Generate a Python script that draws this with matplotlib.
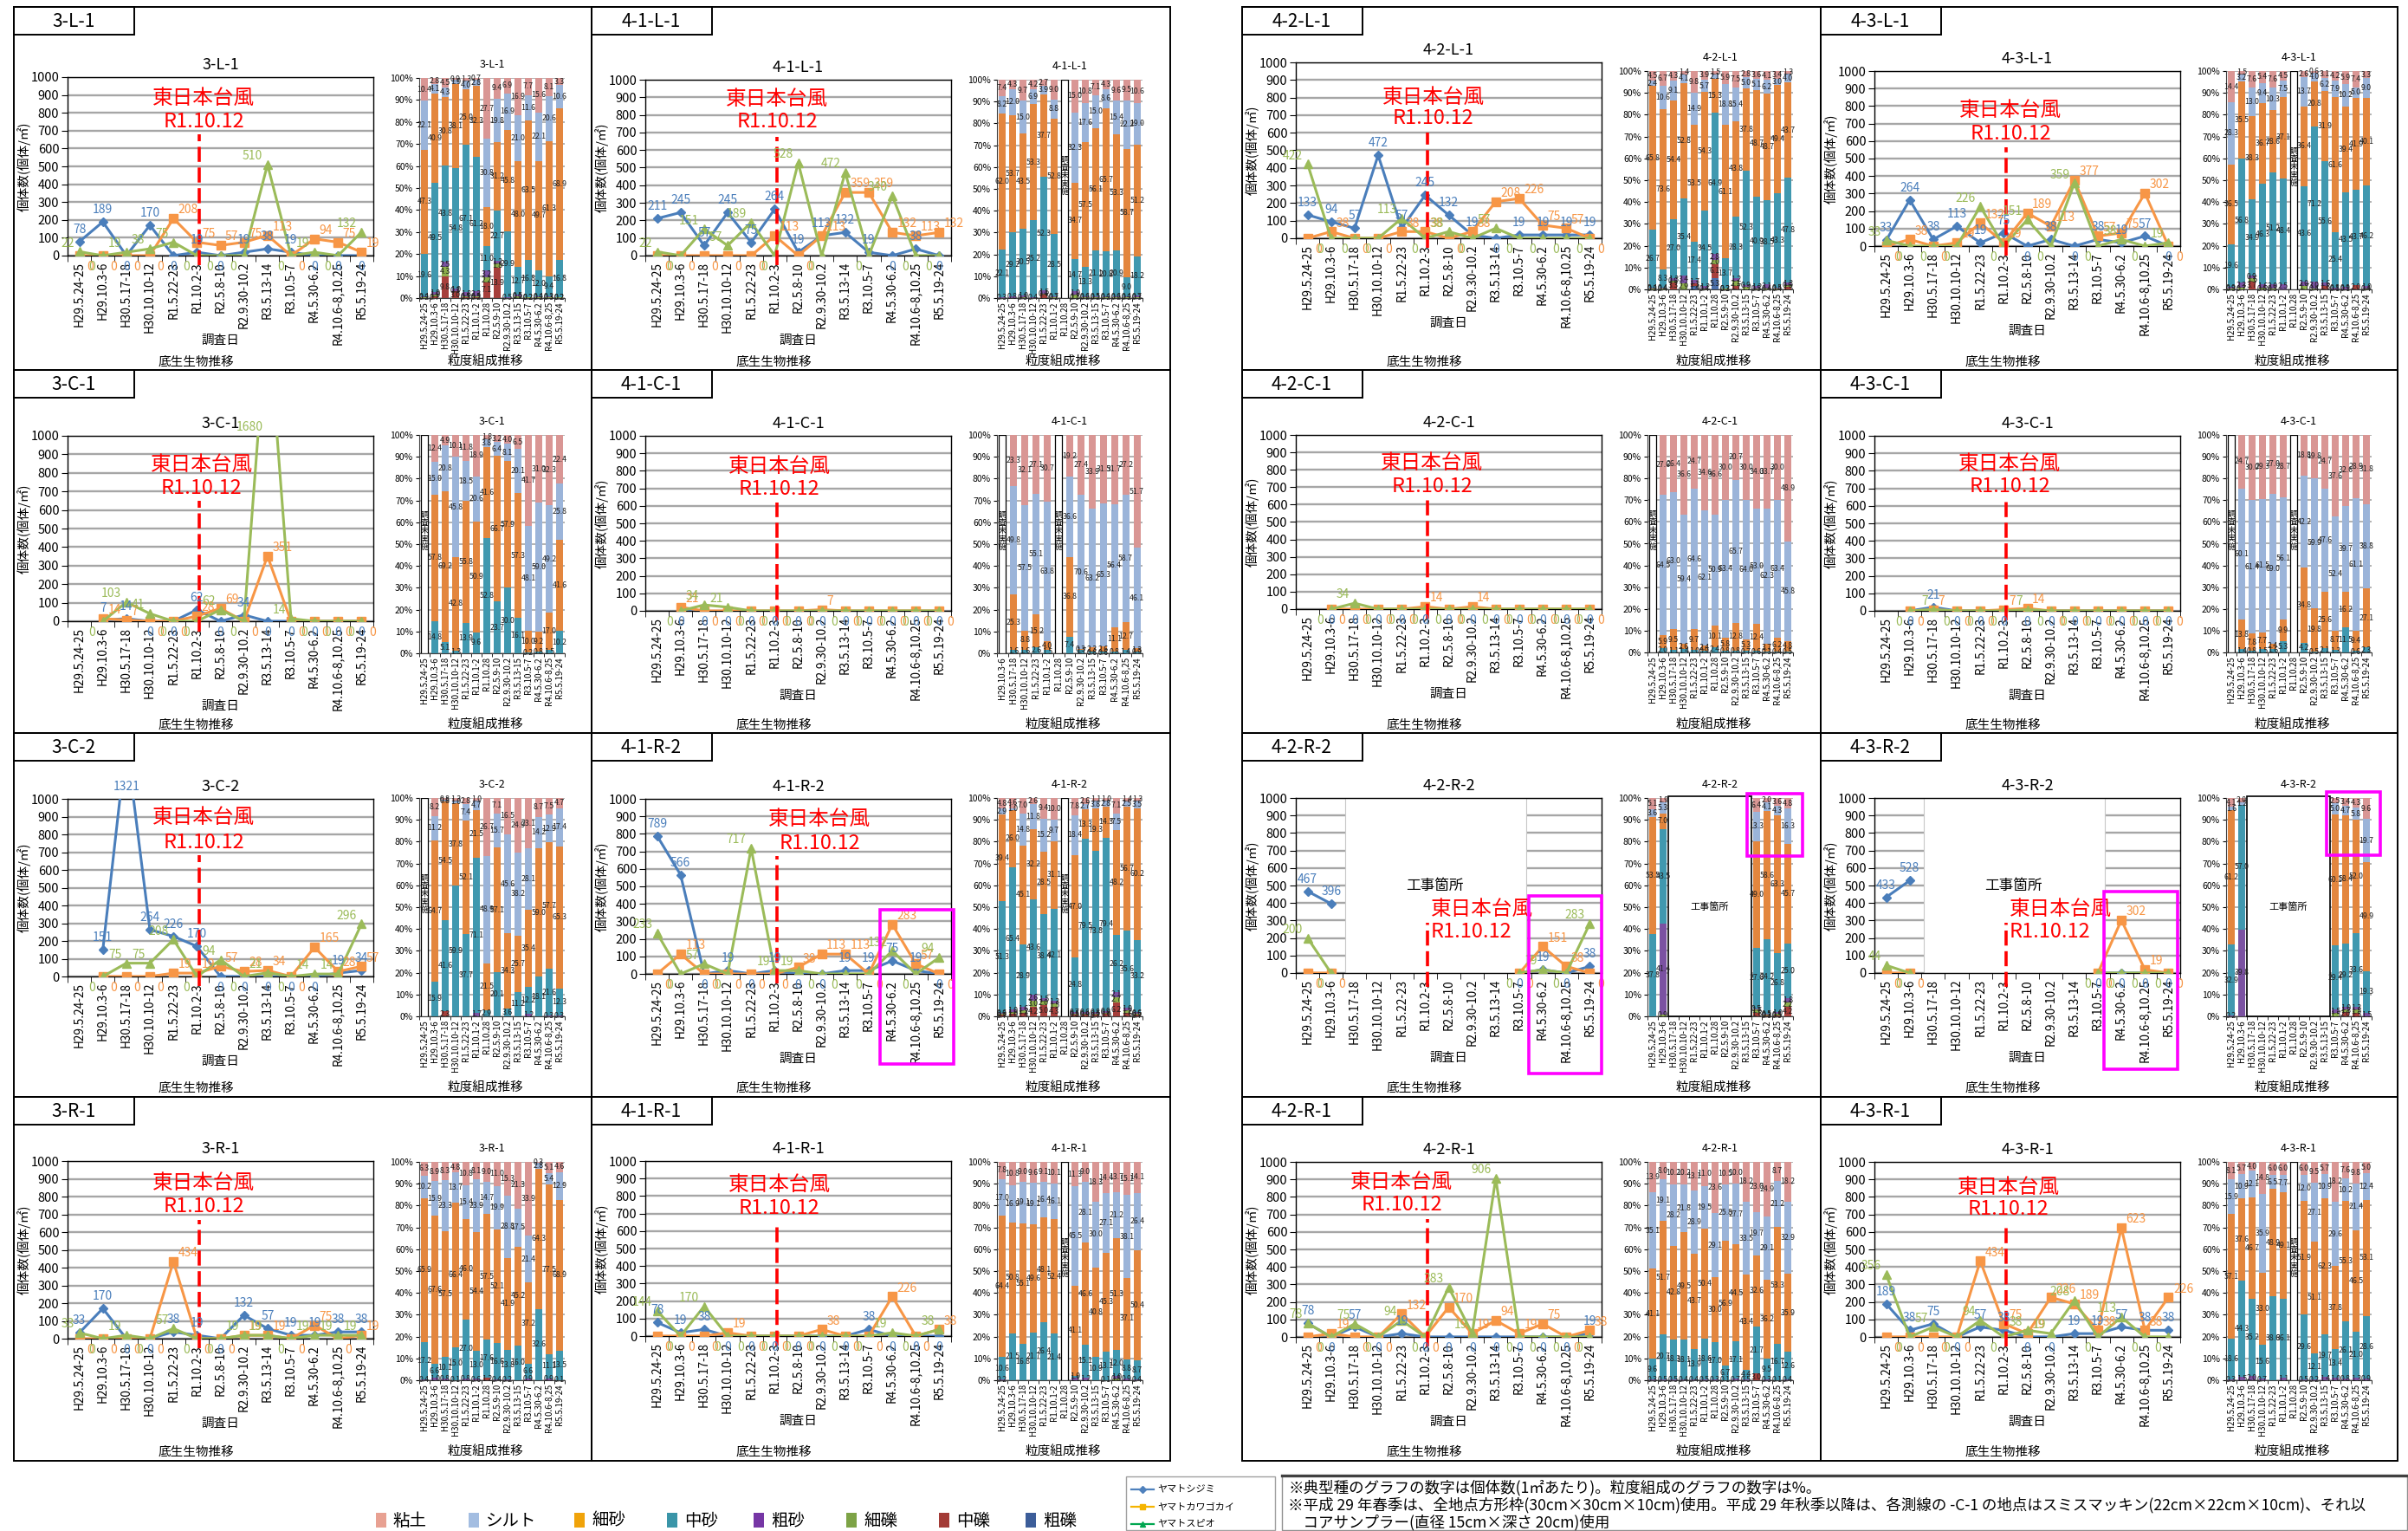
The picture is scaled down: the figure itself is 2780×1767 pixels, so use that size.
import numpy as np
import matplotlib
matplotlib.use('Agg')
import matplotlib.pyplot as plt
from matplotlib.patches import Rectangle
from matplotlib.transforms import blended_transform_factory

plt.rcParams['font.family'] = ['Noto Sans CJK JP', 'DejaVu Sans']
plt.rcParams['axes.unicode_minus'] = False

N = None
LINE_CATS = ['H29.5.24-25', 'H29.10.3-6', 'H30.5.17-18', 'H30.10.10-12', 'R1.5.22-23', 'R1.10.2-3',
             'R2.5.8-10', 'R2.9.30-10.2', 'R3.5.13-14', 'R3.10.5-7', 'R4.5.30-6.2', 'R4.10.6-8,10.25', 'R5.5.19-24']
BAR_CATS = ['H29.5.24-25', 'H29.10.3-6', 'H30.5.17-18', 'H30.10.10-12', 'R1.5.22-23', 'R1.10.1-2', 'R1.10.28',
            'R2.5.9-10', 'R2.9.30-10.2', 'R3.5.13-15', 'R3.10.5-7', 'R4.5.30-6.2', 'R4.10.6-8,25', 'R5.5.19-24']
BAR_CATS_41C1 = ['H29.10.3-6', 'H30.5.17-18', 'H30.10.10-12', 'R1.5.22-23', 'R1.10.1-2', 'R1.10.28',
                 'R2.5.9-10', 'R2.9.30-10.2', 'R3.5.13-15', 'R3.10.5-7', 'R4.5.30-6.2', 'R4.10.6-8,25', 'R5.5.19-24']

# ---------------- line data (individuals / m2) : ヤマトシジミ, ヤマトカワゴカイ, ヤマトスピオ
blue_3L1 = [78, 189, 0, 170, 0, 19, 0, 19, 38, 19, 0, 0, 0]
orange_3L1 = [0, 0, 0, 0, 208, 75, 57, 75, 113, 0, 94, 75, 19]
green_3L1 = [22, 0, 19, 38, 75, 0, 0, 0, 510, 0, 19, 0, 132]
blue_41L1 = [211, 245, 57, 245, 75, 264, 19, 113, 132, 19, 0, 38, 0]
orange_41L1 = [0, 0, 0, 0, 0, 113, 0, 113, 359, 359, 132, 113, 132]
green_41L1 = [22, 0, 151, 57, 189, 0, 528, 0, 472, 0, 340, 0, 0]
blue_42L1 = [133, 94, 57, 472, 57, 245, 132, 19, 0, 19, 19, 19, 19]
orange_42L1 = [0, 38, 0, 0, 38, 38, 0, 38, 208, 226, 75, 57, 0]
green_42L1 = [422, 0, 0, 0, 113, 0, 38, 0, 57, 0, 0, 0, 0]
blue_43L1 = [33, 264, 38, 113, 19, 75, 0, 38, 0, 38, 19, 57, 0]
orange_43L1 = [0, 38, 0, 19, 132, 19, 189, 113, 377, 57, 75, 302, 0]
green_43L1 = [33, 0, 0, 0, 226, 0, 151, 0, 359, 0, 38, 0, 19]
blue_3C1 = [N, 7, 14, 0, 0, 62, 0, 34, 0, 0, 0, 0, 0]
orange_3C1 = [N, 14, 7, 0, 0, 28, 69, 0, 351, 0, 0, 0, 0]
green_3C1 = [N, 0, 103, 41, 0, 0, 62, 0, 1680, 14, 0, 0, 0]
blue_41C1 = [N, 0, 0, 0, 0, 0, 0, 0, 0, 0, 0, 0, 0]
orange_41C1 = [N, 21, 0, 0, 0, 0, 0, 7, 0, 0, 0, 0, 0]
green_41C1 = [N, 0, 34, 21, 0, 0, 0, 0, 0, 0, 0, 0, 0]
blue_42C1 = [N, 0, 0, 0, 0, 0, 0, 0, 0, 0, 0, 0, 0]
orange_42C1 = [N, 0, 0, 0, 0, 14, 0, 14, 0, 0, 0, 0, 0]
green_42C1 = [N, 0, 34, 0, 0, 0, 0, 0, 0, 0, 0, 0, 0]
blue_43C1 = [N, 0, 21, 0, 0, 0, 0, 0, 0, 0, 0, 0, 0]
orange_43C1 = [N, 0, 7, 0, 0, 7, 14, 0, 0, 0, 0, 0, 0]
green_43C1 = [N, 0, 7, 0, 0, 0, 7, 0, 0, 0, 0, 0, 0]
blue_3C2 = [N, 151, 1321, 264, 226, 170, 0, 0, 0, 0, 0, 19, 34]
orange_3C2 = [N, 0, 0, 0, 19, 19, 57, 28, 34, 0, 165, 28, 57]
green_3C2 = [N, 0, 75, 75, 208, 0, 94, 0, 21, 0, 14, 14, 296]
blue_41R2 = [789, 566, 0, 19, 0, 19, 0, 0, 19, 19, 75, 19, 0]
orange_41R2 = [0, 113, 0, 0, 0, 0, 38, 113, 113, 0, 283, 57, 0]
green_41R2 = [233, 0, 57, 0, 717, 19, 19, 0, 0, 0, 132, 0, 94]
blue_42R2 = [467, 396, N, N, N, N, N, N, N, 0, 19, 0, 38]
orange_42R2 = [0, 0, N, N, N, N, N, N, N, 0, 151, 38, 0]
green_42R2 = [200, 0, N, N, N, N, N, N, N, 0, 19, 0, 283]
blue_43R2 = [433, 528, N, N, N, N, N, N, N, 0, 0, 0, 0]
orange_43R2 = [0, 0, N, N, N, N, N, N, N, 0, 302, 19, 0]
green_43R2 = [44, 0, N, N, N, N, N, N, N, 0, 0, 0, 0]
blue_3R1 = [33, 170, 0, 0, 38, 19, 0, 132, 57, 19, 19, 38, 38]
orange_3R1 = [0, 0, 0, 0, 434, 0, 0, 19, 19, 0, 75, 0, 19]
green_3R1 = [33, 0, 19, 0, 57, 0, 0, 19, 19, 0, 19, 19, 19]
blue_41R1 = [78, 19, 38, 0, 0, 0, 0, 0, 0, 38, 0, 0, 0]
orange_41R1 = [0, 0, 0, 19, 0, 0, 0, 38, 0, 0, 226, 0, 38]
green_41R1 = [144, 0, 170, 0, 0, 0, 0, 0, 0, 0, 19, 0, 38]
blue_42R1 = [78, 0, 57, 0, 19, 0, 0, 0, 0, 0, 0, 0, 19]
orange_42R1 = [0, 19, 0, 0, 132, 0, 170, 19, 94, 19, 75, 0, 38]
green_42R1 = [78, 0, 75, 0, 94, 0, 283, 19, 906, 0, 0, 0, 0]
blue_43R1 = [189, 38, 75, 0, 57, 38, 0, 0, 19, 19, 57, 38, 38]
orange_43R1 = [0, 0, 0, 0, 434, 75, 19, 226, 189, 38, 623, 38, 226]
green_43R1 = [356, 0, 57, 0, 94, 0, 38, 19, 208, 0, 113, 0, 0]

# ---------------- grain size composition (%)
clay_3L1 = [10.4, 2.8, 4.5, 0.9, 1.3, 0.7, 27.7, 9.4, 6.9, 16.9, 7.7, 15.6, 8.1, 3.3]
silt_3L1 = [22.1, 4.1, 4.3, 1.9, 4.0, 2.8, 30.8, 19.8, 16.9, 21.0, 11.6, 22.1, 20.6, 10.6]
fsand_3L1 = [47.3, 40.9, 30.8, 38.1, 25.0, 32.3, 18.0, 31.2, 45.8, 48.0, 63.5, 49.7, 61.3, 68.9]
msand_3L1 = [19.6, 49.5, 43.8, 54.8, 67.1, 61.2, 11.0, 22.7, 29.9, 12.7, 16.8, 12.0, 9.4, 16.8]
csand_3L1 = [0.4, 1.0, 2.5, 1.0, 1.8, 2.3, 3.2, 1.2, 0.5, 0.5, 0.2, 0.4, 0.3, 0.2]
fgrav_3L1 = [0.2, 1.0, 4.3, 0.3, 0.5, 0.5, 2.2, 1.8, 0.0, 0.9, 0.2, 0.2, 0.3, 0.2]
mgrav_3L1 = [0.0, 0.7, 9.8, 3.0, 0.3, 0.2, 7.1, 13.9, 0.0, 0.0, 0.0, 0.0, 0.0, 0.0]

clay_41L1 = [7.4, 4.3, 9.7, 4.2, 2.7, 9.0, N, 15.0, 10.8, 7.1, 4.3, 9.6, 9.5, 10.6]
silt_41L1 = [8.2, 12.0, 15.0, 6.9, 3.9, 8.8, N, 32.3, 17.6, 15.0, 8.6, 15.4, 22.2, 19.0]
fsand_41L1 = [62.0, 53.7, 43.5, 53.3, 37.7, 52.8, N, 34.7, 57.5, 56.1, 65.7, 53.3, 58.7, 51.2]
msand_41L1 = [22.1, 29.2, 30.5, 35.2, 52.3, 28.5, N, 14.7, 13.3, 21.1, 20.8, 20.9, 9.0, 18.2]
csand_41L1 = [0.3, 0.8, 1.0, 0.4, 1.5, 0.7, N, 1.9, 0.6, 0.5, 0.4, 0.6, 0.4, 0.7]
fgrav_41L1 = [0.0, 0.0, 0.3, 0.0, 0.4, 0.2, N, 1.3, 0.2, 0.2, 0.2, 0.2, 0.2, 0.3]
mgrav_41L1 = [0.0, 0.0, 0.0, 0.0, 1.5, 0.0, N, 0.1, 0.0, 0.0, 0.0, 0.0, 0.0, 0.0]

clay_42L1 = [4.5, 6.7, 4.3, 1.4, 9.8, 3.9, 1.5, 5.9, 7.5, 2.8, 3.6, 4.1, 3.4, 1.3]
silt_42L1 = [2.4, 10.6, 9.1, 4.1, 14.9, 5.7, 2.1, 18.8, 15.4, 5.0, 5.1, 6.2, 3.0, 4.0]
fsand_42L1 = [65.8, 73.6, 54.4, 52.8, 53.5, 54.3, 15.3, 61.1, 43.8, 37.8, 48.7, 48.7, 49.4, 43.7]
msand_42L1 = [26.7, 8.3, 27.0, 35.4, 17.4, 34.5, 64.9, 13.7, 28.3, 52.3, 40.9, 38.5, 43.3, 47.8]
csand_42L1 = [0.4, 0.4, 1.3, 3.4, 1.7, 1.2, 2.8, 0.3, 1.2, 0.9, 1.2, 2.1, 0.5, 1.3]
fgrav_42L1 = [0.2, 0.4, 0.6, 2.9, 0.0, 0.4, 2.0, 0.2, 2.1, 1.2, 0.5, 0.4, 0.4, 0.6]
mgrav_42L1 = [0.0, 0.0, 3.3, 0.0, 1.3, 0.0, 6.1, 0.0, 1.7, 0.0, 0.0, 0.0, 0.0, 1.3]
cgrav_42L1 = [0.0, 0.0, 0.0, 0.0, 1.4, 0.0, 5.3, 0.0, 0.0, 0.0, 0.0, 0.0, 0.0, 0.0]

clay_43L1 = [14.4, 1.5, 7.6, 5.4, 7.6, 4.5, N, 2.6, 0.6, 3.1, 4.2, 5.9, 7.4, 3.3]
silt_43L1 = [28.3, 3.2, 13.0, 9.4, 10.3, 7.5, N, 13.7, 4.0, 6.2, 7.9, 10.2, 5.0, 9.0]
fsand_43L1 = [36.5, 35.5, 38.3, 36.7, 28.6, 37.1, N, 36.4, 20.8, 31.9, 61.6, 39.4, 41.9, 40.1]
msand_43L1 = [19.6, 56.8, 34.9, 46.3, 51.2, 48.4, N, 43.6, 71.2, 55.6, 25.4, 43.5, 43.7, 46.2]
csand_43L1 = [0.9, 2.3, 0.9, 1.6, 2.0, 2.5, N, 2.0, 3.0, 1.6, 0.8, 0.9, 0.0, 1.0]
fgrav_43L1 = [0.3, 0.7, 1.6, 0.6, 0.3, 0.0, N, 1.7, 0.4, 0.0, 0.1, 0.1, 0.0, 0.4]
mgrav_43L1 = [0.0, 0.0, 3.7, 0.0, 0.0, 0.0, N, 0.0, 0.0, 1.6, 0.0, 0.0, 2.0, 0.0]

clay_3C1 = [N, 12.4, 4.9, 10.1, 11.8, 18.9, 1.8, 3.2, 4.0, 6.5, 41.7, 31.0, 32.3, 22.4]
silt_3C1 = [N, 15.0, 20.8, 45.8, 18.5, 20.6, 3.8, 6.4, 8.1, 20.1, 48.1, 59.0, 49.2, 25.8]
fsand_3C1 = [N, 57.8, 69.2, 42.8, 55.8, 50.9, 41.6, 66.7, 57.9, 57.3, 10.0, 9.2, 17.0, 41.6]
msand_3C1 = [N, 14.8, 5.1, 1.3, 13.9, 9.6, 52.8, 23.7, 30.0, 16.1, 0.2, 0.8, 1.5, 10.2]

clay_41C1 = [N, 23.3, 32.1, 27.1, 30.7, N, 19.2, 27.4, 33.9, 31.5, 31.7, 27.2, 51.7]
silt_41C1 = [N, 49.8, 57.5, 55.1, 63.8, N, 36.6, 70.6, 63.2, 65.3, 56.4, 58.7, 46.1]
fsand_41C1 = [N, 25.3, 8.8, 15.2, 4.0, N, 36.8, 0.3, 2.3, 2.6, 11.1, 12.7, 1.3]
msand_41C1 = [N, 1.6, 1.6, 2.6, 1.5, N, 7.4, 1.7, 0.6, 0.6, 0.8, 1.4, 0.9]

clay_42C1 = [N, 27.6, 26.4, 36.6, 24.7, 34.6, 36.6, 30.0, 20.7, 30.0, 34.0, 33.7, 30.0, 48.9]
silt_42C1 = [N, 64.5, 63.0, 59.4, 64.6, 62.1, 50.9, 63.4, 65.7, 64.0, 53.0, 62.3, 63.4, 45.8]
fsand_42C1 = [N, 5.9, 9.5, 2.6, 9.7, 2.4, 10.1, 5.8, 12.8, 5.3, 12.4, 3.7, 6.2, 4.8]
msand_42C1 = [N, 2.0, 1.1, 1.4, 1.0, 0.9, 2.4, 0.8, 0.8, 0.7, 0.6, 0.3, 0.4, 0.5]

clay_43C1 = [N, 24.7, 30.0, 29.3, 27.0, 28.7, N, 18.8, 19.8, 24.7, 37.6, 32.6, 28.9, 31.8]
silt_43C1 = [N, 60.1, 61.4, 61.5, 69.0, 56.1, N, 42.2, 59.9, 47.6, 52.4, 39.7, 61.1, 38.8]
fsand_43C1 = [N, 13.8, 7.8, 7.7, 2.4, 9.9, N, 34.8, 19.8, 25.6, 8.7, 16.2, 9.4, 27.1]
msand_43C1 = [N, 1.4, 0.8, 1.5, 1.6, 5.3, N, 4.2, 0.5, 2.1, 1.3, 11.5, 0.6, 2.3]

clay_3C2 = [N, 8.2, 0.8, 1.3, 2.8, 1.0, 26.7, 7.1, 16.5, 24.9, 23.1, 8.7, 7.5, 4.7]
silt_3C2 = [N, 11.2, 0.8, 1.0, 7.4, 4.7, 48.9, 15.7, 45.6, 38.2, 28.1, 14.2, 12.9, 17.4]
fsand_3C2 = [N, 64.7, 54.5, 37.8, 52.1, 21.5, 21.5, 57.1, 34.3, 25.7, 35.4, 59.0, 57.7, 65.3]
msand_3C2 = [N, 15.9, 41.6, 59.9, 37.7, 71.1, 2.9, 20.1, 3.6, 11.2, 12.2, 18.1, 21.6, 12.3]
csand_3C2 = [N, 0.0, 0.0, 0.0, 0.0, 1.7, 0.0, 0.0, 0.0, 0.0, 1.2, 0.0, 0.3, 0.3]
mgrav_3C2 = [N, 0.0, 2.3, 0.0, 0.0, 0.0, 0.0, 0.0, 0.0, 0.0, 0.0, 0.0, 0.0, 0.0]

clay_41R2 = [4.8, 4.6, 7.0, 2.6, 9.4, 10.0, N, 7.8, 2.6, 1.1, 1.0, 7.1, 1.4, 1.3]
silt_41R2 = [2.9, 1.0, 14.8, 11.8, 15.2, 9.7, N, 18.4, 2.7, 3.8, 2.8, 7.5, 2.5, 3.5]
fsand_41R2 = [39.4, 26.0, 45.1, 32.2, 28.5, 31.1, N, 47.0, 13.3, 19.3, 14.3, 48.2, 56.7, 60.2]
msand_41R2 = [51.3, 65.4, 28.9, 43.6, 38.4, 42.1, N, 24.8, 79.5, 73.8, 79.4, 26.2, 35.6, 33.2]
csand_41R2 = [0.6, 1.0, 1.6, 2.6, 1.5, 1.3, N, 0.7, 0.6, 0.8, 0.9, 2.1, 1.0, 0.6]
fgrav_41R2 = [0.3, 1.0, 1.2, 3.0, 2.0, 1.5, N, 0.5, 0.4, 0.5, 0.6, 2.7, 1.2, 0.5]
mgrav_41R2 = [0.7, 1.0, 1.4, 4.2, 5.0, 4.3, N, 0.8, 0.9, 0.7, 1.0, 6.2, 1.6, 0.7]

clay_42R2 = [5.1, 1.9, N, N, N, N, N, N, N, N, 6.4, 2.0, 3.6, 4.8]
silt_42R2 = [3.6, 5.3, N, N, N, N, N, N, N, N, 13.3, 4.1, 4.3, 16.3]
fsand_42R2 = [53.5, 7.0, N, N, N, N, N, N, N, N, 49.0, 58.6, 63.3, 45.7]
msand_42R2 = [37.8, 43.5, N, N, N, N, N, N, N, N, 27.6, 34.2, 26.8, 25.0]
csand_42R2 = [0.0, 41.4, N, N, N, N, N, N, N, N, 0.5, 0.5, 1.0, 1.8]
fgrav_42R2 = [0.0, 0.9, N, N, N, N, N, N, N, N, 1.6, 0.3, 0.5, 2.2]
mgrav_42R2 = [0.0, 0.0, N, N, N, N, N, N, N, N, 1.6, 0.3, 0.5, 4.2]

clay_43R2 = [4.1, 2.0, N, N, N, N, N, N, N, N, 2.5, 3.4, 4.3, 9.6]
silt_43R2 = [1.6, 1.2, N, N, N, N, N, N, N, N, 5.0, 4.7, 5.8, 19.7]
fsand_43R2 = [61.2, 0.0, N, N, N, N, N, N, N, N, 60.1, 58.4, 52.0, 49.9]
msand_43R2 = [32.9, 57.0, N, N, N, N, N, N, N, N, 29.4, 29.2, 33.6, 19.3]
csand_43R2 = [0.2, 39.8, N, N, N, N, N, N, N, N, 1.5, 1.0, 1.3, 1.5]
fgrav_43R2 = [0.0, 0.0, N, N, N, N, N, N, N, N, 1.5, 1.3, 1.5, 0.0]
mgrav_43R2 = [0.0, 0.0, N, N, N, N, N, N, N, N, 0.0, 2.0, 1.5, 0.0]

clay_3R1 = [6.3, 8.9, 8.3, 4.8, 10.8, 8.1, 9.0, 11.0, 15.3, 21.3, 33.9, 0.3, 5.1, 4.6]
silt_3R1 = [10.2, 15.9, 23.3, 13.7, 15.4, 23.9, 14.7, 19.9, 28.8, 17.5, 21.4, 2.8, 5.4, 12.9]
fsand_3R1 = [65.9, 67.6, 57.5, 66.4, 46.0, 54.4, 57.5, 52.1, 41.9, 45.2, 37.2, 64.3, 77.5, 68.9]
msand_3R1 = [17.2, 6.6, 10.1, 15.0, 27.0, 13.0, 17.6, 16.6, 13.8, 16.0, 6.6, 32.6, 11.1, 13.5]
csand_3R1 = [0.4, 1.0, 0.8, 0.1, 0.8, 0.6, 0.0, 0.4, 0.2, 0.0, 0.9, 0.0, 0.9, 0.1]
mgrav_3R1 = [0.0, 0.0, 0.0, 0.0, 0.0, 0.0, 1.2, 0.0, 0.0, 0.0, 0.0, 0.0, 0.0, 0.0]

clay_41R1 = [7.8, 10.8, 9.0, 9.6, 9.1, 10.1, N, 11.3, 9.0, 18.3, 14.4, 13.7, 15.1, 14.1]
silt_41R1 = [17.0, 16.9, 19.1, 19.1, 16.4, 16.1, N, 45.5, 28.1, 30.0, 27.1, 21.2, 38.1, 26.4]
fsand_41R1 = [64.4, 50.8, 55.1, 49.6, 48.1, 52.4, N, 41.1, 46.6, 40.8, 45.3, 51.3, 37.1, 50.4]
msand_41R1 = [10.6, 21.5, 16.8, 21.7, 26.4, 21.4, N, 1.0, 15.1, 10.9, 13.1, 12.0, 8.8, 8.7]
csand_41R1 = [0.2, 0.0, 0.0, 0.0, 0.0, 0.0, N, 1.1, 1.2, 0.0, 0.1, 1.0, 0.9, 0.4]
fgrav_41R1 = [0.0, 0.0, 0.0, 0.0, 0.0, 0.0, N, 0.0, 0.0, 0.0, 0.0, 0.8, 0.0, 0.0]

clay_42R1 = [13.9, 8.0, 10.2, 10.2, 13.1, 11.0, 23.6, 10.5, 10.0, 18.2, 23.0, 24.9, 8.7, 18.2]
silt_42R1 = [35.1, 19.1, 28.2, 21.8, 28.9, 19.5, 29.1, 25.8, 27.7, 33.5, 19.7, 29.1, 21.2, 32.9]
fsand_42R1 = [41.1, 51.7, 42.8, 49.5, 43.7, 50.4, 30.0, 56.9, 44.5, 43.4, 32.6, 36.2, 53.3, 35.9]
msand_42R1 = [9.6, 20.7, 18.3, 18.1, 13.9, 18.6, 17.0, 6.7, 17.1, 4.4, 21.7, 9.5, 16.7, 12.6]
csand_42R1 = [0.3, 0.5, 0.5, 0.4, 0.4, 0.5, 0.3, 0.1, 0.7, 0.5, 0.0, 0.3, 0.1, 0.4]
mgrav_42R1 = [0.0, 0.0, 0.0, 0.0, 0.0, 0.0, 0.0, 0.0, 0.0, 0.0, 3.0, 0.0, 0.0, 0.0]

clay_43R1 = [8.1, 5.7, 4.0, 14.8, 6.0, 6.0, N, 6.0, 9.5, 5.7, 18.2, 7.6, 9.8, 5.0]
silt_43R1 = [15.9, 10.9, 12.1, 35.9, 6.5, 7.7, N, 12.0, 27.1, 10.9, 29.6, 10.2, 21.4, 12.4]
fsand_43R1 = [57.1, 37.6, 46.7, 33.0, 48.9, 49.1, N, 51.9, 51.1, 62.3, 37.8, 55.3, 46.5, 53.1]
msand_43R1 = [18.6, 44.3, 35.2, 15.6, 38.6, 36.1, N, 29.6, 12.1, 19.7, 13.4, 26.1, 21.0, 28.6]
csand_43R1 = [0.3, 1.5, 2.0, 0.7, 0.0, 1.1, N, 0.5, 0.2, 1.4, 1.0, 0.8, 1.3, 0.9]

LEGEND_NAMES = ['粘土', 'シルト', '細砂', '中砂', '粗砂', '細礫', '中礫', '粗礫']
SPECIES = ['ヤマトシジミ', 'ヤマトカワゴカイ', 'ヤマトスピオ']
NOTES = ['※典型種のグラフの数字は個体数(1㎡あたり)。粒度組成のグラフの数字は%。',
         '※平成 29 年春季は、全地点方形枠(30cm×30cm×10cm)使用。平成 29 年秋季以降は、各測線の -C-1 の地点はスミスマッキン(22cm×22cm×10cm)、それ以',
         '　コアサンプラー(直径 15cm×深さ 20cm)使用']

# ---------------- styles / layout
C_LINE = ['#4A7EBB', '#F79646', '#9BBB59']
MARK = ['D', 's', '^']
MS = [5.5, 6.5, 7.5]
ORDER = ['cgrav', 'mgrav', 'fgrav', 'csand', 'msand', 'fsand', 'silt', 'clay']
BAR_COL = {'clay': '#D99694', 'silt': '#9BB4D9', 'fsand': '#E3863E', 'msand': '#4098AF',
           'csand': '#7B52A2', 'fgrav': '#8DAF4C', 'mgrav': '#A63F3B', 'cgrav': '#4A6EA8'}
LEG_COL = ['#E8A192', '#A3BDE1', '#F0A30A', '#3A95A8', '#7636A5', '#7DA346', '#A33B36', '#3C5D99']

W, H = 2780, 1767
COL_X = [16, 683, 1434, 2102]
COL_W = [667, 668, 668, 666]
ROW_Y = [8, 427, 846, 1266]
ROW_H = [419, 419, 420, 420]

def bars(clay, silt, fsand, msand, csand=None, fgrav=None, mgrav=None, cgrav=None):
    d = dict(clay=clay, silt=silt, fsand=fsand, msand=msand)
    for k, v in (('csand', csand), ('fgrav', fgrav), ('mgrav', mgrav), ('cgrav', cgrav)):
        if v is not None:
            d[k] = v
    return d

PANELS = [
    dict(name='3-L-1', col=0, row=0, lines=(blue_3L1, orange_3L1, green_3L1),
         bars=bars(clay_3L1, silt_3L1, fsand_3L1, msand_3L1, csand_3L1, fgrav_3L1, mgrav_3L1), cats=BAR_CATS,
         ltb=(81, 287), btb=(82, 336), typh=(5.3, 883, 752, 680, 'center')),
    dict(name='4-1-L-1', col=1, row=0, lines=(blue_41L1, orange_41L1, green_41L1),
         bars=bars(clay_41L1, silt_41L1, fsand_41L1, msand_41L1, csand_41L1, fgrav_41L1, mgrav_41L1), cats=BAR_CATS,
         ltb=(84, 287), btb=(84, 336), typh=(5.1, 887, 763, 675, 'center')),
    dict(name='4-2-L-1', col=2, row=0, lines=(blue_42L1, orange_42L1, green_42L1),
         bars=bars(clay_42L1, silt_42L1, fsand_42L1, msand_42L1, csand_42L1, fgrav_42L1, mgrav_42L1, cgrav_42L1),
         cats=BAR_CATS, ltb=(64, 267), btb=(74, 326), typh=(5.35, 803, 680, 600, 'center')),
    dict(name='4-3-L-1', col=3, row=0, lines=(blue_43L1, orange_43L1, green_43L1),
         bars=bars(clay_43L1, silt_43L1, fsand_43L1, msand_43L1, csand_43L1, fgrav_43L1, mgrav_43L1), cats=BAR_CATS,
         ltb=(74, 276), btb=(74, 326), typh=(5.3, 777, 639, 564, 'center')),
    dict(name='3-C-1', col=0, row=1, lines=(blue_3C1, orange_3C1, green_3C1),
         bars=bars(clay_3C1, silt_3C1, fsand_3C1, msand_3C1), cats=BAR_CATS,
         ltb=(76, 290), btb=(75, 327), typh=(5.2, 845, 717, 648, 'center')),
    dict(name='4-1-C-1', col=1, row=1, lines=(blue_41C1, orange_41C1, green_41C1),
         bars=bars(clay_41C1, silt_41C1, fsand_41C1, msand_41C1), cats=BAR_CATS_41C1,
         ltb=(76, 278), btb=(75, 327), typh=(5.2, 824, 695, 618, 'center')),
    dict(name='4-2-C-1', col=2, row=1, lines=(blue_42C1, orange_42C1, green_42C1),
         bars=bars(clay_42C1, silt_42C1, fsand_42C1, msand_42C1), cats=BAR_CATS,
         ltb=(75, 276), btb=(75, 326), typh=(5.3, 838, 702, 628, 'center')),
    dict(name='4-3-C-1', col=3, row=1, lines=(blue_43C1, orange_43C1, green_43C1),
         bars=bars(clay_43C1, silt_43C1, fsand_43C1, msand_43C1), cats=BAR_CATS,
         ltb=(76, 278), btb=(75, 326), typh=(5.25, 840, 708, 626, 'center')),
    dict(name='3-C-2', col=0, row=2, lines=(blue_3C2, orange_3C2, green_3C2),
         bars=bars(clay_3C2, silt_3C2, fsand_3C2, msand_3C2, csand_3C2, None, mgrav_3C2), cats=BAR_CATS,
         ltb=(76, 281), btb=(75, 327), typh=(5.3, 894, 756, 683, 'center')),
    dict(name='4-1-R-2', col=1, row=2, lines=(blue_41R2, orange_41R2, green_41R2),
         bars=bars(clay_41R2, silt_41R2, fsand_41R2, msand_41R2, csand_41R2, fgrav_41R2, mgrav_41R2), cats=BAR_CATS,
         ltb=(76, 278), btb=(75, 327), typh=(6.9, 885, 745, 671, 'center'),
         mag_line=(9.47, 12.6, -0.515, 0.366)),
    dict(name='4-2-R-2', col=2, row=2, lines=(blue_42R2, orange_42R2, green_42R2),
         bars=bars(clay_42R2, silt_42R2, fsand_42R2, msand_42R2, csand_42R2, fgrav_42R2, mgrav_42R2), cats=BAR_CATS,
         ltb=(75, 277), btb=(75, 327), typh=(5.25, 365, 236, 289, 'left'), kouji=True,
         mag_line=(9.41, 12.5, -0.574, 0.44), mag_bar=(9.1, 14.4, 0.734, 1.02)),
    dict(name='4-3-R-2', col=3, row=2, lines=(blue_43R2, orange_43R2, green_43R2),
         bars=bars(clay_43R2, silt_43R2, fsand_43R2, msand_43R2, csand_43R2, fgrav_43R2, mgrav_43R2), cats=BAR_CATS,
         ltb=(75, 277), btb=(75, 327), typh=(5.15, 365, 236, 289, 'left'), kouji=True,
         mag_line=(9.26, 12.4, -0.55, 0.465), mag_bar=(9.17, 14.3, 0.738, 1.028)),
    dict(name='3-R-1', col=0, row=3, lines=(blue_3R1, orange_3R1, green_3R1),
         bars=bars(clay_3R1, silt_3R1, fsand_3R1, msand_3R1, csand_3R1, None, mgrav_3R1), cats=BAR_CATS,
         ltb=(74, 279), btb=(75, 327), typh=(5.3, 875, 745, 668, 'center')),
    dict(name='4-1-R-1', col=1, row=3, lines=(blue_41R1, orange_41R1, green_41R1),
         bars=bars(clay_41R1, silt_41R1, fsand_41R1, msand_41R1, csand_41R1, fgrav_41R1), cats=BAR_CATS,
         ltb=(74, 276), btb=(75, 327), typh=(5.2, 864, 732, 650, 'center')),
    dict(name='4-2-R-1', col=2, row=3, lines=(blue_42R1, orange_42R1, green_42R1),
         bars=bars(clay_42R1, silt_42R1, fsand_42R1, msand_42R1, csand_42R1, None, mgrav_42R1), cats=BAR_CATS,
         ltb=(75, 277), btb=(75, 327), typh=(4.0, 885, 753, 674, 'center')),
    dict(name='4-3-R-1', col=3, row=3, lines=(blue_43R1, orange_43R1, green_43R1),
         bars=bars(clay_43R1, silt_43R1, fsand_43R1, msand_43R1, csand_43R1), cats=BAR_CATS,
         ltb=(75, 277), btb=(75, 327), typh=(5.2, 852, 729, 646, 'center')),
]

fig = plt.figure(figsize=(W / 100, H / 100), dpi=100)
bg = fig.add_axes([0, 0, 1, 1])
bg.set_xlim(0, W)
bg.set_ylim(H, 0)
bg.axis('off')


def frac(x, y, w, h):
    return [x / W, 1 - (y + h) / H, w / W, h / H]


def draw_line_chart(p, px, py):
    lt, lb = p['ltb']
    L0, L1 = px + 62, px + 415
    ax = fig.add_axes(frac(L0, py + lt, L1 - L0, lb - lt))
    x = np.arange(len(LINE_CATS))
    ax.set_xlim(-0.5, len(LINE_CATS) - 0.5)
    ax.set_ylim(0, 1000)
    ax.set_yticks(np.arange(0, 1001, 100))
    ax.yaxis.grid(True, color='#A6A6A6', lw=1.7)
    ax.set_axisbelow(True)
    for s in ax.spines.values():
        s.set_color('black')
        s.set_linewidth(1.0)
    ax.set_xticks(x)
    ax.set_xticklabels(LINE_CATS, rotation=90, fontsize=9.8)
    ax.set_xticks(np.arange(-0.5, len(LINE_CATS), 1), minor=True)
    ax.tick_params(axis='x', which='major', length=0, pad=5)
    ax.tick_params(axis='x', which='minor', length=5, direction='out')
    ax.tick_params(axis='y', labelsize=10.5, length=5, pad=2)
    if p.get('kouji'):
        ax.add_patch(Rectangle((1.6, 0), 7.7, 1000, facecolor='white', edgecolor='#C8C8C8', lw=0.8, zorder=1))
        ax.text(5.4, 500, '工事箇所', fontsize=12, ha='center', va='center', zorder=2)
    offs = [((0, 5), 'center', (0, -4), 'center'),
            ((4, 2), 'left', (6, -4), 'left'),
            ((-4, 2), 'right', (-6, -4), 'right')]
    for k, vals in enumerate(p['lines']):
        arr = np.array([np.nan if v is None else v for v in vals], float)
        ax.plot(x, arr, color=C_LINE[k], lw=2.2, marker=MARK[k], ms=MS[k], zorder=3 + k * 0.1)
        for i, v in enumerate(vals):
            if v is None:
                continue
            if v > 0:
                xy, ha, va = offs[k][0], offs[k][1], 'bottom'
            else:
                xy, ha, va = offs[k][2], offs[k][3], 'top'
            ax.annotate(str(int(v)), (i, min(v, 1000)), xytext=xy, textcoords='offset points',
                        ha=ha, va=va, fontsize=10, color=C_LINE[k], annotation_clip=False, zorder=6)
    tx, y1, y2, top, ha = p['typh']
    xl = 5.08
    bottom = -78 if p.get('kouji') else -55
    ax.plot([xl, xl], [bottom, top], color='#FF0000', lw=2.6, dashes=(4.8, 1.8), clip_on=False, zorder=4)
    if ha == 'left':
        tx = xl + 0.15
    ax.text(tx, y1, '東日本台風', color='#FF0000', fontsize=17, ha=ha, va='center', zorder=6)
    ax.text(tx, y2, 'R1.10.12', color='#FF0000', fontsize=17, ha=ha, va='center', zorder=6)
    if 'mag_line' in p:
        x0, x1, f0, f1 = p['mag_line']
        tr = blended_transform_factory(ax.transData, ax.transAxes)
        ax.add_patch(Rectangle((x0, f0), x1 - x0, f1 - f0, transform=tr, fill=False, ec='#FF00FF',
                               lw=2.6, clip_on=False, zorder=10))
    cx = (L0 + L1) / 2
    bg.text(cx, py + lt - 14, p['name'], fontsize=13, ha='center', va='center')
    bg.text(px + 12, py + (lt + lb) / 2, '個体数(個体/㎡)', fontsize=10.5, rotation=90, ha='center', va='center')
    bg.text(cx, py + lb + 98, '調査日', fontsize=10.5, ha='center', va='center')


def draw_bar_chart(p, px, py):
    bt, bb = p['btb']
    B0, B1 = px + 468, px + 636
    ax = fig.add_axes(frac(B0, py + bt, B1 - B0, bb - bt))
    cats = p['cats']
    n = len(cats)
    x = np.arange(n)
    ax.set_xlim(-0.5, n - 0.5)
    ax.set_ylim(0, 100)
    ax.set_yticks(np.arange(0, 101, 10))
    ax.set_yticklabels([f'{v}%' for v in range(0, 101, 10)])
    ax.yaxis.grid(True, color='#A6A6A6', lw=1.2)
    ax.set_axisbelow(True)
    ax.spines['top'].set_visible(False)
    ax.spines['right'].set_visible(False)
    ax.spines['left'].set_color('#404040')
    ax.spines['bottom'].set_color('#404040')
    ax.set_xticks(x)
    ax.set_xticklabels(cats, rotation=90, fontsize=7)
    ax.set_xticks(np.arange(-0.5, n, 1), minor=True)
    ax.tick_params(axis='x', which='major', length=0, pad=3)
    ax.tick_params(axis='x', which='minor', length=3, direction='out')
    ax.tick_params(axis='y', labelsize=7.5, length=3, pad=2)
    bd = p['bars']
    present = [v is not None for v in bd['clay']]
    bottom = np.zeros(n)
    for key in ORDER:
        if key not in bd:
            continue
        v0 = np.array([0.0 if v is None else v for v in bd[key]], float)
        ax.bar(x, v0, 0.62, bottom=bottom, color=BAR_COL[key], lw=0, zorder=2)
        for i in range(n):
            if present[i] and v0[i] > 0:
                ax.text(i, bottom[i] + v0[i] / 2, f'{v0[i]:.1f}', fontsize=6.3, color='#1E1E1E',
                        ha='center', va='center', zorder=5)
        bottom = bottom + v0
    kouji = p.get('kouji', False)
    for i in range(n):
        if present[i]:
            continue
        if kouji and 2 <= i <= 9:
            continue
        ax.add_patch(Rectangle((i - 0.31, 0), 0.62, 100, facecolor='white', edgecolor='black', lw=0.9, zorder=3))
        ax.text(i, 56, '調\n査\n未\n実\n施', fontsize=6.5, ha='center', va='center', linespacing=1.05, zorder=4)
    if kouji:
        ax.add_patch(Rectangle((1.5, 0), 8.0, 100.8, facecolor='white', edgecolor='black', lw=1.2,
                               zorder=3, clip_on=False))
        ax.text(5.5, 50, '工事箇所', fontsize=8, ha='center', va='center', zorder=4)
    if 'mag_bar' in p:
        x0, x1, f0, f1 = p['mag_bar']
        tr = blended_transform_factory(ax.transData, ax.transAxes)
        ax.add_patch(Rectangle((x0, f0), x1 - x0, f1 - f0, transform=tr, fill=False, ec='#FF00FF',
                               lw=2.6, clip_on=False, zorder=10))
    bg.text((B0 + B1) / 2, py + bt - 16, p['name'], fontsize=9, ha='center', va='center')


for p in PANELS:
    c, r = p['col'], p['row']
    px, py, pw, ph = COL_X[c], ROW_Y[r], COL_W[c], ROW_H[r]
    bg.add_patch(Rectangle((px, py), pw, ph, fill=False, ec='black', lw=1.4))
    bg.add_patch(Rectangle((px, py), 139, 32, fill=False, ec='black', lw=1.4))
    bg.text(px + 69, py + 17, p['name'], fontsize=15, ha='center', va='center')
    draw_line_chart(p, px, py)
    draw_bar_chart(p, px, py)
    bg.text(px + 210, py + 410, '底生生物推移', fontsize=10.5, ha='center', va='center')
    bg.text(px + 544, py + 410, '粒度組成推移', fontsize=10.5, ha='center', va='center')

# ---------------- bottom legend for grain size
LEG_X = [434, 541, 663, 770, 870, 977, 1084, 1184]
for name, col, lx in zip(LEGEND_NAMES, LEG_COL, LEG_X):
    bg.add_patch(Rectangle((lx, 1746), 12, 17, facecolor=col, lw=0))
    bg.text(lx + 20, 1755, name, fontsize=14, ha='left', va='center')

# ---------------- species legend box
bg.add_patch(Rectangle((1300, 1704), 172, 62, fill=False, ec='#A0A0A0', lw=1.0))
SP_COL = ['#4F81BD', '#F5B400', '#00A650']
for k, (sp, col) in enumerate(zip(SPECIES, SP_COL)):
    yy = 1719 + k * 20
    bg.plot([1306, 1332], [yy, yy], color=col, lw=1.6)
    bg.plot([1319], [yy], marker=MARK[k], color=col, ms=4.5)
    bg.text(1336, yy, sp, fontsize=8, ha='left', va='center')

# ---------------- notes box
bg.add_patch(Rectangle((1480, 1703), 1299, 63, fill=False, ec='#909090', lw=1.0))
bg.plot([1480, 2780], [1703, 1703], color='#404040', lw=2.4)
for k, t in enumerate(NOTES):
    bg.text(1487, 1717 + k * 20, t, fontsize=12.6, ha='left', va='center')

fig.savefig('out.png', dpi=100)
